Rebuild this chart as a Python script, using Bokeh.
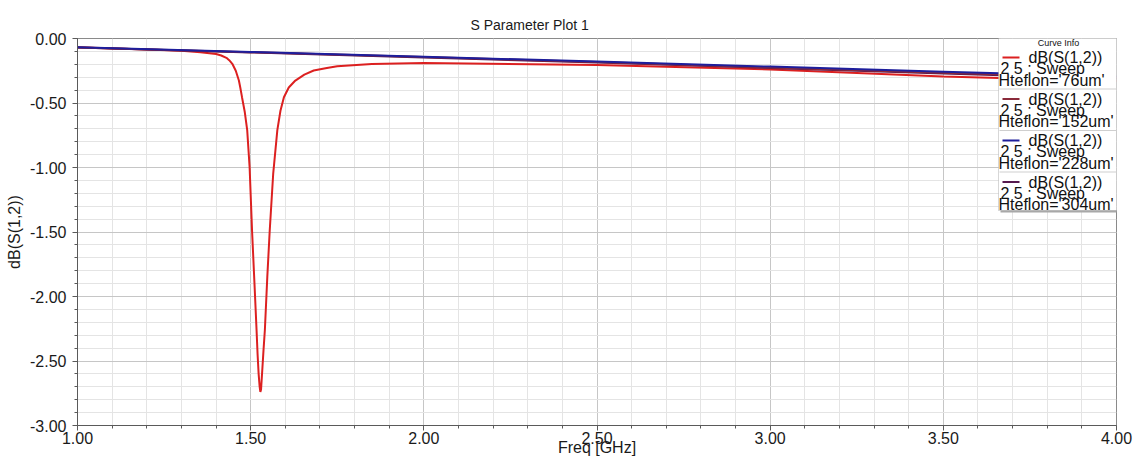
from bokeh.plotting import figure
from bokeh.models import (Label, BoxAnnotation, SingleIntervalTicker,
                          NumeralTickFormatter, Range1d, ColumnDataSource)
from bokeh.embed import file_html
from bokeh.resources import INLINE

# ---------------- data ----------------
freq_76 = [1.00, 1.20, 1.30, 1.355, 1.40, 1.415, 1.43, 1.438, 1.447, 1.457, 1.466,
           1.470, 1.475, 1.483, 1.49, 1.497, 1.504, 1.511, 1.517, 1.520, 1.523,
           1.526, 1.528, 1.530, 1.534, 1.537, 1.541, 1.548, 1.555, 1.565, 1.577,
           1.586, 1.596, 1.61, 1.629, 1.655, 1.682, 1.72, 1.75, 1.85, 2.00, 2.50,
           3.00, 3.50, 4.00]
db_76 = [-0.068, -0.085, -0.095, -0.106, -0.120, -0.132, -0.150, -0.168, -0.196,
         -0.250, -0.326, -0.380, -0.455, -0.570, -0.71, -1.00, -1.49, -1.90, -2.26,
         -2.45, -2.60, -2.70, -2.74, -2.72, -2.55, -2.42, -2.26, -1.85, -1.49, -1.05,
         -0.71, -0.56, -0.455, -0.380, -0.326, -0.280, -0.248, -0.228, -0.215,
         -0.197, -0.190, -0.205, -0.240, -0.295, -0.330]

freq_lin = [1.00, 1.50, 2.00, 2.50, 3.00, 3.50, 4.00]
db_152 = [-0.069, -0.106, -0.144, -0.183, -0.224, -0.265, -0.302]
db_228 = [-0.068, -0.104, -0.141, -0.179, -0.218, -0.258, -0.294]
db_304 = [-0.070, -0.108, -0.147, -0.187, -0.229, -0.271, -0.310]

series_names = ["Hteflon='76um'", "Hteflon='152um'", "Hteflon='228um'", "Hteflon='304um'"]
series_colors = ["#dc2020", "#8a2a3a", "#1e1e9c", "#56184e"]

title_text = "S Parameter Plot 1"
x_label = "Freq [GHz]"
y_label = "dB(S(1,2))"

FONT = "Liberation Sans"

# ---------------- figure ----------------
p = figure(width=1134, height=459, output_backend="svg", toolbar_location=None,
           x_range=Range1d(1, 4), y_range=Range1d(-3, 0),
           min_border_left=77, min_border_right=18, min_border_top=38,
           min_border_bottom=34, background_fill_color="white",
           border_fill_color="white")

p.title.text = title_text
p.title.align = "left"
p.title.offset = 393
p.title.vertical_align = "middle"
p.title.text_font = FONT
p.title.text_font_size = "14px"
p.title.text_font_style = "normal"
p.title.text_color = "#1a1a1a"

xt = SingleIntervalTicker(interval=0.5, num_minor_ticks=5)
yt = SingleIntervalTicker(interval=0.5, num_minor_ticks=5)
p.xaxis.ticker = xt
p.yaxis.ticker = yt
p.xgrid.ticker = xt
p.ygrid.ticker = yt
for ax in (p.xaxis, p.yaxis):
    ax.formatter = NumeralTickFormatter(format="0.00")
    ax.major_tick_out = 5
    ax.major_tick_in = 0
    ax.minor_tick_out = 3
    ax.minor_tick_in = 0
    ax.axis_line_color = "#5a5a5a"
    ax.major_tick_line_color = "#5a5a5a"
    ax.minor_tick_line_color = "#5a5a5a"
    ax.major_label_text_font = FONT
    ax.major_label_text_font_size = "16px"
    ax.major_label_text_color = "#1a1a1a"
    ax.axis_label_text_font = FONT
    ax.axis_label_text_font_size = "16px"
    ax.axis_label_text_font_style = "normal"
    ax.axis_label_text_color = "#1a1a1a"

p.xaxis.axis_label = x_label
p.yaxis.axis_label = y_label
p.xaxis.major_label_standoff = 1
p.xaxis.axis_label_standoff = -8
p.yaxis.major_label_standoff = 6
p.yaxis.axis_label_standoff = 4

for g in (p.xgrid, p.ygrid):
    g.grid_line_color = "#c6c6c6"
    g.grid_line_width = 1
    g.minor_grid_line_color = "#e4e4e4"
    g.minor_grid_line_width = 1

p.outline_line_color = "#8a8a8a"

# ---------------- curves ----------------
src76 = ColumnDataSource(dict(x=freq_76, y=db_76))
p.line("x", "y", source=src76, line_color=series_colors[0], line_width=2)
for ys, c in [(db_304, series_colors[3]), (db_152, series_colors[1]), (db_228, series_colors[2])]:
    s = ColumnDataSource(dict(x=freq_lin, y=ys))
    p.line("x", "y", source=s, line_color=c, line_width=2)

# ---------------- legend ("Curve Info") ----------------
FL, FB = 77, 425  # frame left / bottom in canvas px


def sx(X):
    return X - FL


def sy(Y):
    return FB - Y


def box(l, r, t, b, **kw):
    p.add_layout(BoxAnnotation(left=sx(l), right=sx(r), top=sy(t), bottom=sy(b),
                               left_units="screen", right_units="screen",
                               top_units="screen", bottom_units="screen",
                               level="overlay", **kw))


def label(X, Y, txt, size, align="left", font=FONT, color="#111111"):
    p.add_layout(Label(x=sx(X), y=sy(Y), x_units="screen", y_units="screen",
                       text=txt, text_align=align, text_baseline="middle",
                       text_font=font, text_font_size=size, text_color=color,
                       level="overlay"))


L, R, T, B = 998, 1123, 33, 210
box(L + 2, R + 2, T + 2, B + 2, fill_color="#a8a8a8", fill_alpha=1, line_color=None)
box(L, R, T, B, fill_color="white", fill_alpha=1, line_color="#7a7a7a", line_width=1)
label(1058, 42, "Curve Info", "9px", align="center")

pitch = 41.5
for i, (name, c) in enumerate(zip(series_names, series_colors)):
    y0 = 57 + pitch * i
    if i > 0:
        ysep = 88 + pitch * (i - 1)
        box(L + 1, R - 1, ysep, ysep + 1, fill_color="#cfcfcf", fill_alpha=1, line_color=None)
    box(1002, 1019, y0 - 1, y0 + 1, fill_color=c, fill_alpha=1, line_color=None)
    label(1028, y0, "dB(S(1,2))", "16px")
    label(1000, y0 + 11, "2 5 : Sweep", "16px")
    label(998, y0 + 22.5, name, "16px")

open("out.html", "w").write(file_html(p, INLINE))
